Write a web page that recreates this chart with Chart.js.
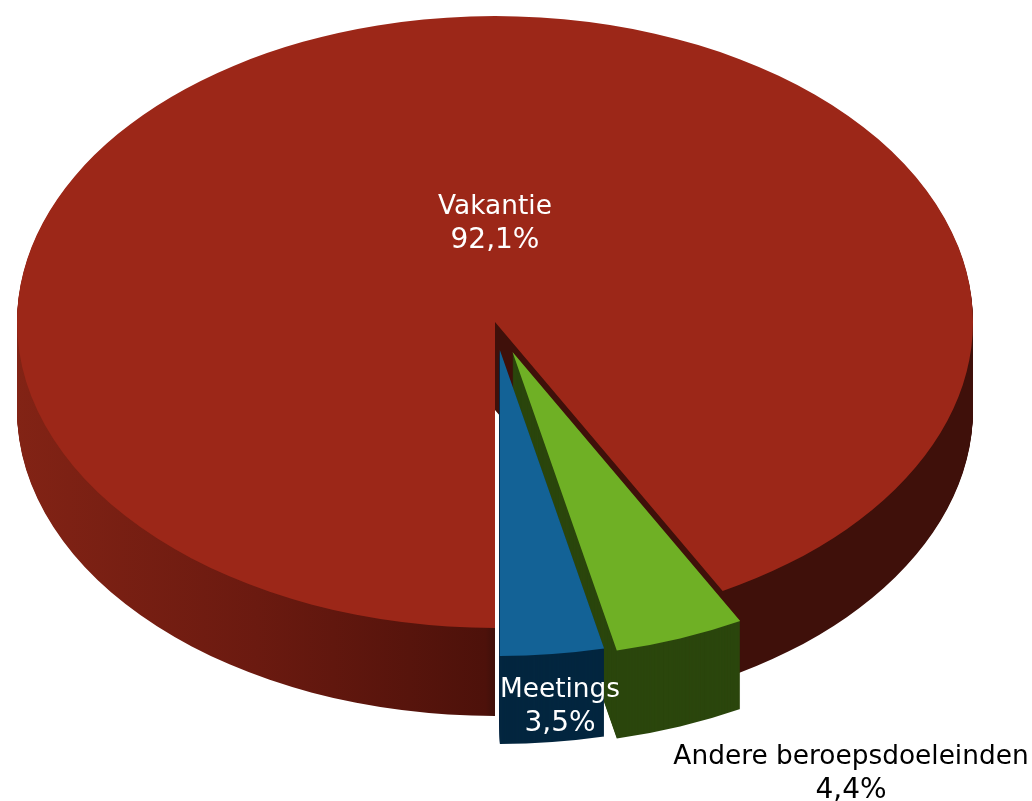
<!DOCTYPE html>
<html>
<head>
<meta charset="utf-8">
<title>Vakantie</title>
<script src="https://cdn.jsdelivr.net/npm/chart.js@4/dist/chart.umd.min.js"></script>
<style>
  html, body { margin: 0; padding: 0; background: #fff; }
  canvas { display: block; }
</style>
</head>
<body>
<canvas id="pieChart" width="1032" height="801"></canvas>
<script>
// ===== DATA =====
const categories = ["Vakantie", "Andere beroepsdoeleinden", "Meetings"];
const shares = [92.1, 4.4, 3.5];
const shareLabels = ["92,1%", "4,4%", "3,5%"];

// ===== STYLE =====
const topColors = ["#9c2718", "#6fb025", "#136296"];
const sideColors = [null, "#2b460d", "#03263f"];
const explode = [0, 50, 44];
const labelPos = [[495, 207, "#fff"], [851, 757, "#000"], [560, 690, "#fff"]];
const TILT = 0.64;
const DEPTH = 88;

// squash the pie into an ellipse around its own centre, slices pulled out along their middle
function tilt(ctx, arc, i, drop) {
  const mid = (arc.startAngle + arc.endAngle) / 2;
  ctx.translate(Math.cos(mid) * explode[i], arc.y + drop + Math.sin(mid) * explode[i] * TILT);
  ctx.scale(1, TILT);
  ctx.translate(0, -arc.y);
}

function redSide(ctx, arc) {
  const g = ctx.createLinearGradient(arc.x - arc.outerRadius, 0, arc.x + arc.outerRadius, 0);
  g.addColorStop(0, "#822315");
  g.addColorStop(0.25, "#6b1a10");
  g.addColorStop(0.49, "#4d110a");
  g.addColorStop(0.5, "#3f100a");
  g.addColorStop(1, "#3f100a");
  return g;
}

const pie3d = {
  id: "pie3d",
  beforeDatasetsDraw(chart) {
    const ctx = chart.ctx;
    const arcs = chart.getDatasetMeta(0).data;
    // Draw sides and tops slice by slice, back to front
    arcs.forEach((arc, i) => {
      const opts = arc.options;
      const side = sideColors[i] || redSide(ctx, arc);
      arc.options = Object.create(opts, { backgroundColor: { value: side } });
      for (let d = DEPTH; d > 0; d--) {
        ctx.save();
        tilt(ctx, arc, i, d);
        arc.draw(ctx);
        ctx.restore();
      }
      arc.options = opts;
      ctx.save();
      tilt(ctx, arc, i, 0);
      arc.draw(ctx);
      ctx.restore();
    });
    return false; // the flat pie is not wanted
  },
  afterDraw(chart) {
    const ctx = chart.ctx;
    ctx.save();
    ctx.textAlign = "center";
    ctx.textBaseline = "middle";
    categories.forEach((name, i) => {
      const [x, y, color] = labelPos[i];
      ctx.fillStyle = color;
      ctx.font = "26.4px 'DejaVu Sans'";
      ctx.fillText(name, x, y);
      // digits run wider in the original font
      ctx.font = "28px 'DejaVu Sans'";
      ctx.fillText(shareLabels[i], x, y + 34);
    });
    ctx.restore();
  },
};

// ===== CHART =====
new Chart(document.getElementById("pieChart").getContext("2d"), {
  type: "pie",
  data: {
    labels: categories,
    datasets: [
      {
        data: shares,
        backgroundColor: topColors,
        borderWidth: 0,
        clip: false,
      },
    ],
  },
  options: {
    responsive: false,
    animation: false,
    rotation: 180,
    radius: 478,
    layout: { padding: { right: 42, bottom: 157 } },
    plugins: {
      legend: { display: false },
      tooltip: { enabled: false },
    },
  },
  plugins: [pie3d],
});
</script>
</body>
</html>
